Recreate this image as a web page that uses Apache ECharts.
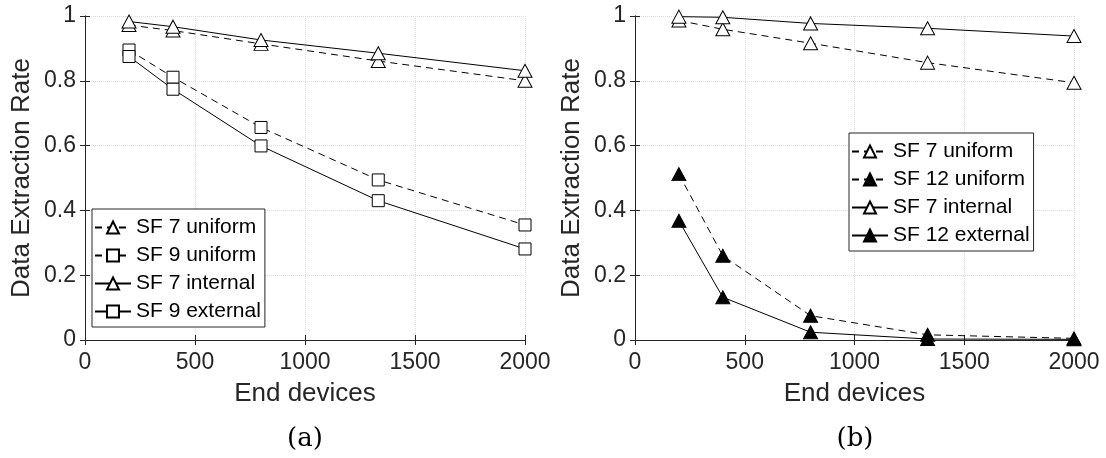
<!DOCTYPE html>
<html>
<head>
<meta charset="utf-8">
<script src="https://cdn.jsdelivr.net/npm/echarts@6/dist/echarts.min.js"></script>
<style>
  html, body { margin: 0; padding: 0; background: #fff; }
  #chart { width: 1106px; height: 458px; }
</style>
</head>
<body>
<div id="chart"></div>
<script>
// x positions (number of end devices)
const devices = [200, 400, 800, 1333, 2000];

// panel (a)
const aSf7Uniform = [0.972, 0.955, 0.914, 0.861, 0.800];
const aSf9Uniform = [0.895, 0.811, 0.656, 0.494, 0.355];
const aSf7Internal = [0.983, 0.967, 0.926, 0.885, 0.831];
const aSf9External = [0.875, 0.774, 0.599, 0.430, 0.281];

// panel (b)
const bSf7Uniform = [0.986, 0.959, 0.916, 0.856, 0.794];
const bSf12Uniform = [0.512, 0.260, 0.075, 0.016, 0.005];
const bSf7Internal = [0.998, 0.996, 0.977, 0.962, 0.938];
const bSf12External = [0.368, 0.132, 0.024, 0.003, 0.002];

const FONT = '"Liberation Sans", Arial, sans-serif';
const AX = '#262626';

const pairs = vals => devices.map((d, i) => [d, vals[i]]);

// 绘制一条线
function mkSeries(name, vals, dashed, symbol, filled, panel) {
  return {
    name: name,
    type: 'line',
    xAxisIndex: panel * 2,
    yAxisIndex: panel * 2,
    data: pairs(vals),
    symbol: symbol,
    symbolSize: symbol === 'triangle' ? [14, 13] : 12,
    showAllSymbol: true,
    lineStyle: { color: '#000', width: 1, type: dashed ? [7, 5] : 'solid' },
    itemStyle: { color: filled ? '#000' : '#fff', borderColor: '#000', borderWidth: 1 },
    emphasis: { disabled: true },
    animation: false
  };
}

function mkXAxes(grid) {
  return [
    {
      type: 'value', gridIndex: grid, position: 'bottom',
      min: 0, max: 2000, interval: 500,
      axisLine: { lineStyle: { color: AX, width: 1 } },
      axisTick: { inside: true, length: 5, lineStyle: { color: AX } },
      axisLabel: { color: AX, fontSize: 23, fontFamily: FONT, margin: 11, formatter: v => String(v) },
      splitLine: { show: true, lineStyle: { color: '#dcdcdc', type: 'dotted' } },
      name: 'End devices', nameLocation: 'middle', nameGap: 41,
      nameTextStyle: { color: AX, fontSize: 26, fontFamily: FONT }
    },
    {
      type: 'value', gridIndex: grid, position: 'top',
      min: 0, max: 2000, interval: 500,
      axisLine: { show: true, lineStyle: { color: AX, width: 1 } },
      axisTick: { show: true, inside: true, length: 5, lineStyle: { color: AX } },
      axisLabel: { show: false },
      splitLine: { show: false }
    }
  ];
}

function mkYAxes(grid) {
  return [
    {
      type: 'value', gridIndex: grid, position: 'left',
      min: 0, max: 1, interval: 0.2,
      axisLine: { show: true, lineStyle: { color: AX, width: 1 } },
      axisTick: { show: true, inside: true, length: 5, lineStyle: { color: AX } },
      axisLabel: { color: AX, fontSize: 23, fontFamily: FONT, margin: 9 },
      splitLine: { show: true, lineStyle: { color: '#dcdcdc', type: 'dotted' } },
      name: 'Data Extraction Rate', nameLocation: 'middle', nameGap: 50,
      nameTextStyle: { color: AX, fontSize: 26, fontFamily: FONT }
    },
    {
      type: 'value', gridIndex: grid, position: 'right',
      min: 0, max: 1, interval: 0.2,
      axisLine: { show: true, lineStyle: { color: AX, width: 1 } },
      axisTick: { show: true, inside: true, length: 5, lineStyle: { color: AX } },
      axisLabel: { show: false },
      splitLine: { show: false }
    }
  ];
}

function mkLegend(names, left, top) {
  return {
    data: names,
    left: left, top: top,
    orient: 'vertical',
    itemWidth: 36, itemHeight: 15, itemGap: 7,
    padding: [8, 4, 5, 2],
    borderColor: AX, borderWidth: 1, borderRadius: 0,
    backgroundColor: '#fff',
    selectedMode: false,
    textStyle: { color: '#000', fontSize: 21, fontFamily: FONT }
  };
}

const chart = echarts.init(document.getElementById('chart'), null, { renderer: 'canvas' });

const option = {
  animation: false,
  backgroundColor: '#fff',
  grid: [
    { left: 85, right: 581, top: 16, bottom: 118 },
    { left: 635, right: 32, top: 16, bottom: 118 }
  ],
  xAxis: mkXAxes(0).concat(mkXAxes(1)),
  yAxis: mkYAxes(0).concat(mkYAxes(1)),
  legend: [
    mkLegend(['SF 7 uniform', 'SF 9 uniform', 'SF 7 internal', 'SF 9 external'], 92, 209),
    mkLegend(['SF 7 uniform', 'SF 12 uniform', 'SF 7 internal', 'SF 12 external'], 849, 133)
  ],
  series: [
    mkSeries('SF 7 uniform', aSf7Uniform, true, 'triangle', false, 0),
    mkSeries('SF 9 uniform', aSf9Uniform, true, 'rect', false, 0),
    mkSeries('SF 7 internal', aSf7Internal, false, 'triangle', false, 0),
    mkSeries('SF 9 external', aSf9External, false, 'rect', false, 0),
    mkSeries('SF 7 uniform', bSf7Uniform, true, 'triangle', false, 1),
    mkSeries('SF 12 uniform', bSf12Uniform, true, 'triangle', true, 1),
    mkSeries('SF 7 internal', bSf7Internal, false, 'triangle', false, 1),
    mkSeries('SF 12 external', bSf12External, false, 'triangle', true, 1)
  ],
  graphic: [
    { type: 'text', x: 305, y: 439, style: { text: '(a)', fill: '#000', font: '26px "DejaVu Serif", serif', align: 'center', verticalAlign: 'middle' } },
    { type: 'text', x: 855, y: 439, style: { text: '(b)', fill: '#000', font: '26px "DejaVu Serif", serif', align: 'center', verticalAlign: 'middle' } }
  ]
};

chart.setOption(option);
</script>
</body>
</html>
